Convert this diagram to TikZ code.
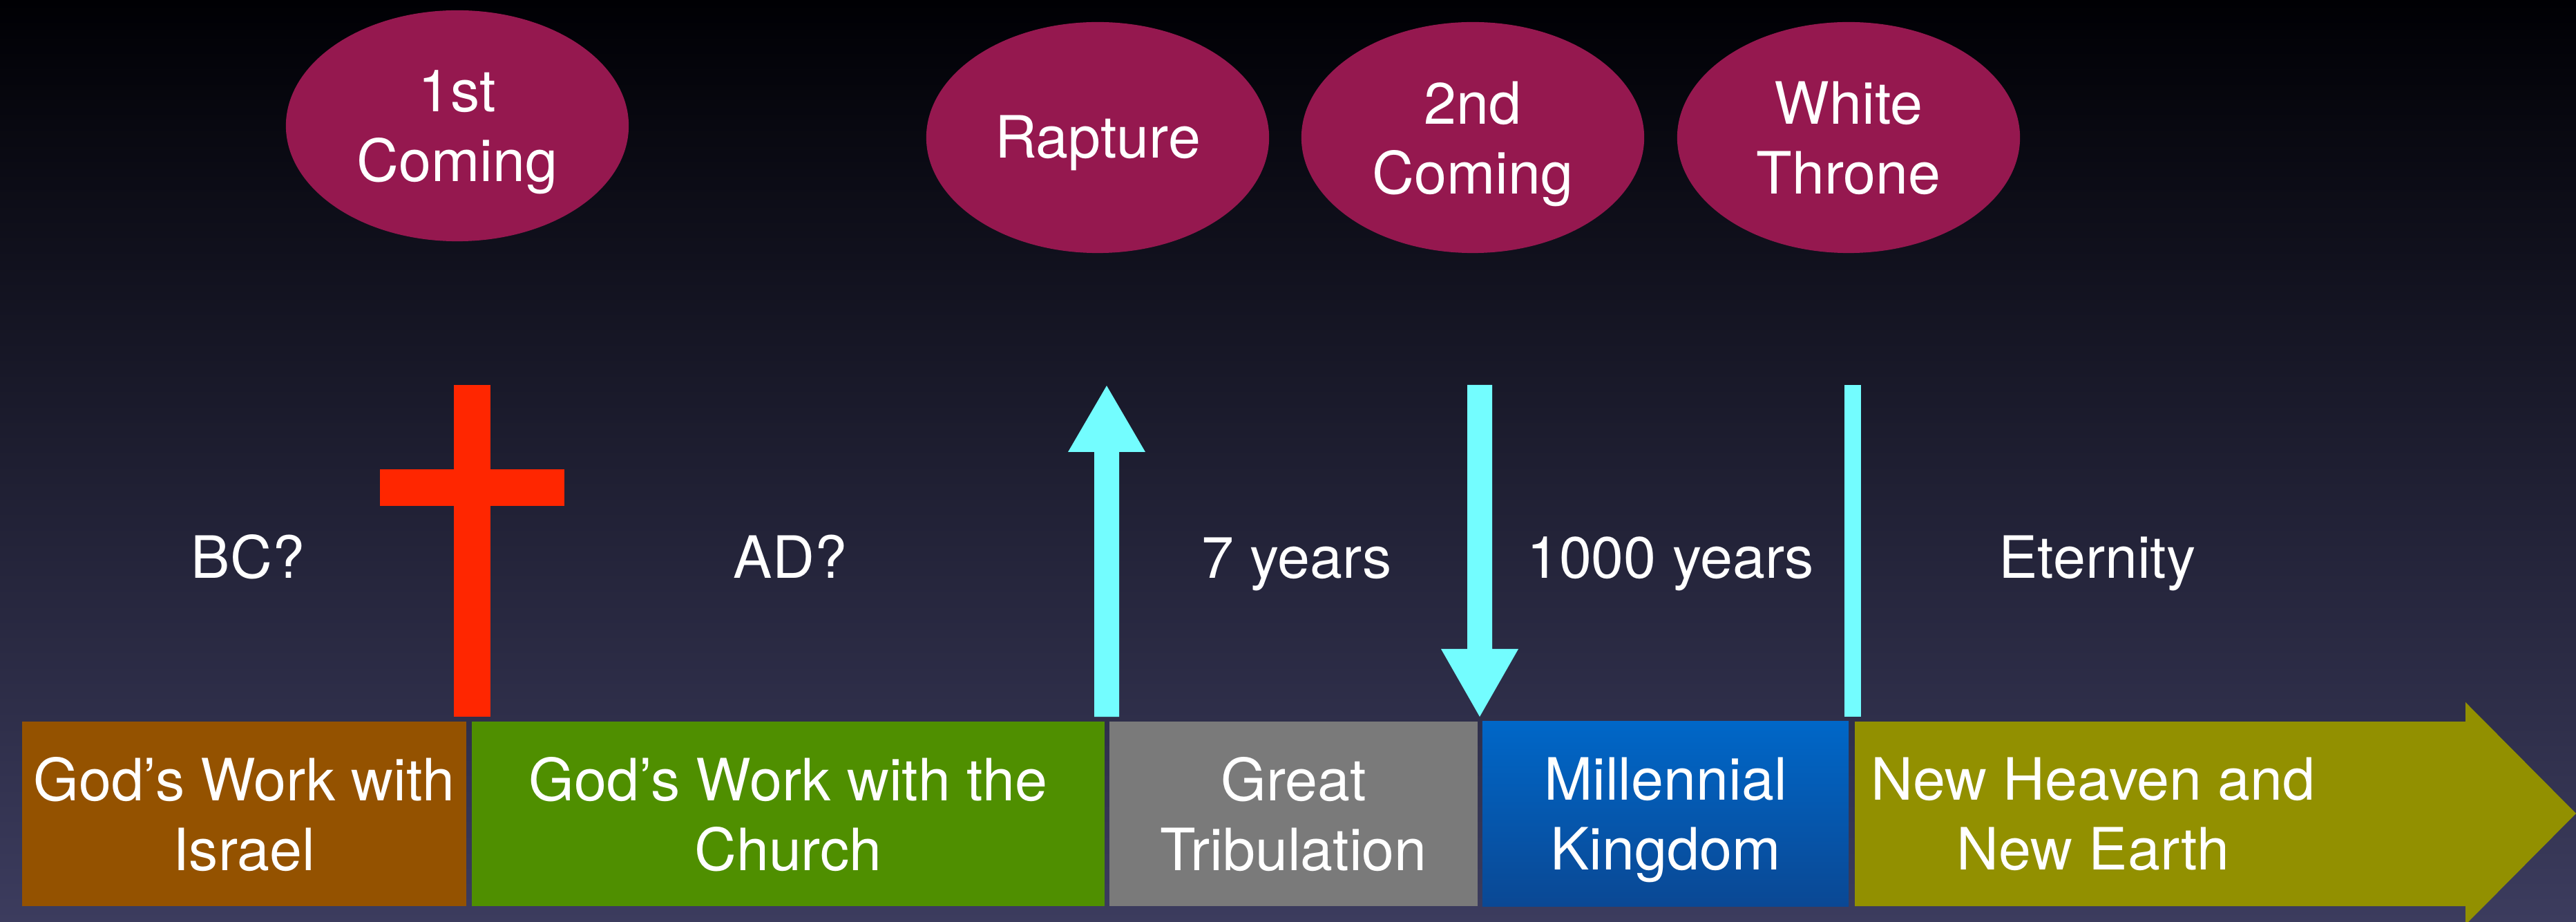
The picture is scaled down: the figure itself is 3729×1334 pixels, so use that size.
\documentclass[tikz,border=0pt]{standalone}
\usepackage{fontspec}
\setmainfont{TeX Gyre Heros}
\usetikzlibrary{shapes.geometric}
\definecolor{bgtop}{HTML}{000004}
\definecolor{bgmid}{HTML}{0E0E30}
\definecolor{bgbot}{HTML}{3C3C5E}
\definecolor{evt}{HTML}{95184F}
\definecolor{crossred}{HTML}{FF2600}
\definecolor{cyanmark}{HTML}{73FDFF}
\definecolor{brn}{HTML}{945200}
\definecolor{grn}{HTML}{4F8F00}
\definecolor{gry}{HTML}{7A7A7A}
\definecolor{bluetop}{HTML}{0067C8}
\definecolor{bluebot}{HTML}{0A4894}
\definecolor{olv}{HTML}{929000}
\begin{document}
\begin{tikzpicture}[x=0.01cm,y=-0.01cm,
  lbl/.style={text=white, font=\fontsize{24pt}{28.7pt}\selectfont, inner sep=0pt},
  event/.style={ellipse, fill=evt, minimum width=4.96cm, minimum height=3.34cm,
    inner sep=0pt, lbl, align=center, text depth=0pt},
  period/.style={rectangle, minimum height=2.67cm, inner sep=0pt, lbl,
    align=center, text depth=0pt},
  marker/.style={fill=cyanmark, draw=none},
]
\useasboundingbox (0,0) rectangle (3729,1334);
\shade[top color=bgtop, middle color=bgmid, bottom color=bgbot] (0,0) rectangle (3729,1334);

% periods
\node[period, fill=brn, minimum width=6.43cm] (israel) at (353.5,1177.5) {God’s Work with\\Israel};
\node[period, fill=grn, minimum width=9.16cm] (church) at (1141,1177.5) {God’s Work with the\\Church};
\node[period, fill=gry, minimum width=5.33cm] (trib) at (1872.5,1177.5) {Great\\Tribulation};
\node[period, top color=bluetop, bottom color=bluebot, minimum width=5.30cm] (mill) at (2411,1177.5) {Millennial\\Kingdom};
\coordinate (oa) at (2685,1044);
\coordinate (ob) at (3569,1044);
\coordinate (oc) at (3569,1016);
\coordinate (od) at (3729,1177);
\coordinate (oe) at (3569,1338);
\coordinate (of) at (3569,1311);
\coordinate (og) at (2685,1311);
\fill[olv] (oa) -- (ob) -- (oc) -- (od) -- (oe) -- (of) -- (og) -- cycle;
\node[period, minimum height=0pt] (newearth) at (3030,1177.5) {New Heaven and\\New Earth};

% cross
\fill[crossred] (657,557) rectangle (710,1037);
\fill[crossred] (550,679) rectangle (817,732);

% rapture arrow (up)
\fill[marker] (1584,1037) -- (1584,654) -- (1546,654) -- (1602,558) -- (1658,654) -- (1620,654) -- (1620,1037) -- cycle;
% second coming arrow (down)
\fill[marker] (2124,557) -- (2124,939) -- (2086,939) -- (2142,1037) -- (2198,939) -- (2160,939) -- (2160,557) -- cycle;
% white throne line
\fill[marker] (2670,557) rectangle (2694,1037);

% middle labels
\node[lbl, anchor=base] (bc) at (359,837) {BC?};
\node[lbl, anchor=base] (ad) at (1144,837) {AD?};
\node[lbl, anchor=base] (seven) at (1877,837) {7 years};
\node[lbl, anchor=base] (thousand) at (2418,837) {1000 years};
\node[lbl, anchor=base] (eternity) at (3036,837) {Eternity};

% events
\node[event] (first) at (662,182) {1st\\Coming};
\node[event] (rapture) at (1589,199) {};
\node[lbl, anchor=base] (rapturetext) at (1589,229) {Rapture};
\node[event] (second) at (2132,199) {2nd\\Coming};
\node[event] (throne) at (2676,199) {White\\Throne};
\end{tikzpicture}
\end{document}
